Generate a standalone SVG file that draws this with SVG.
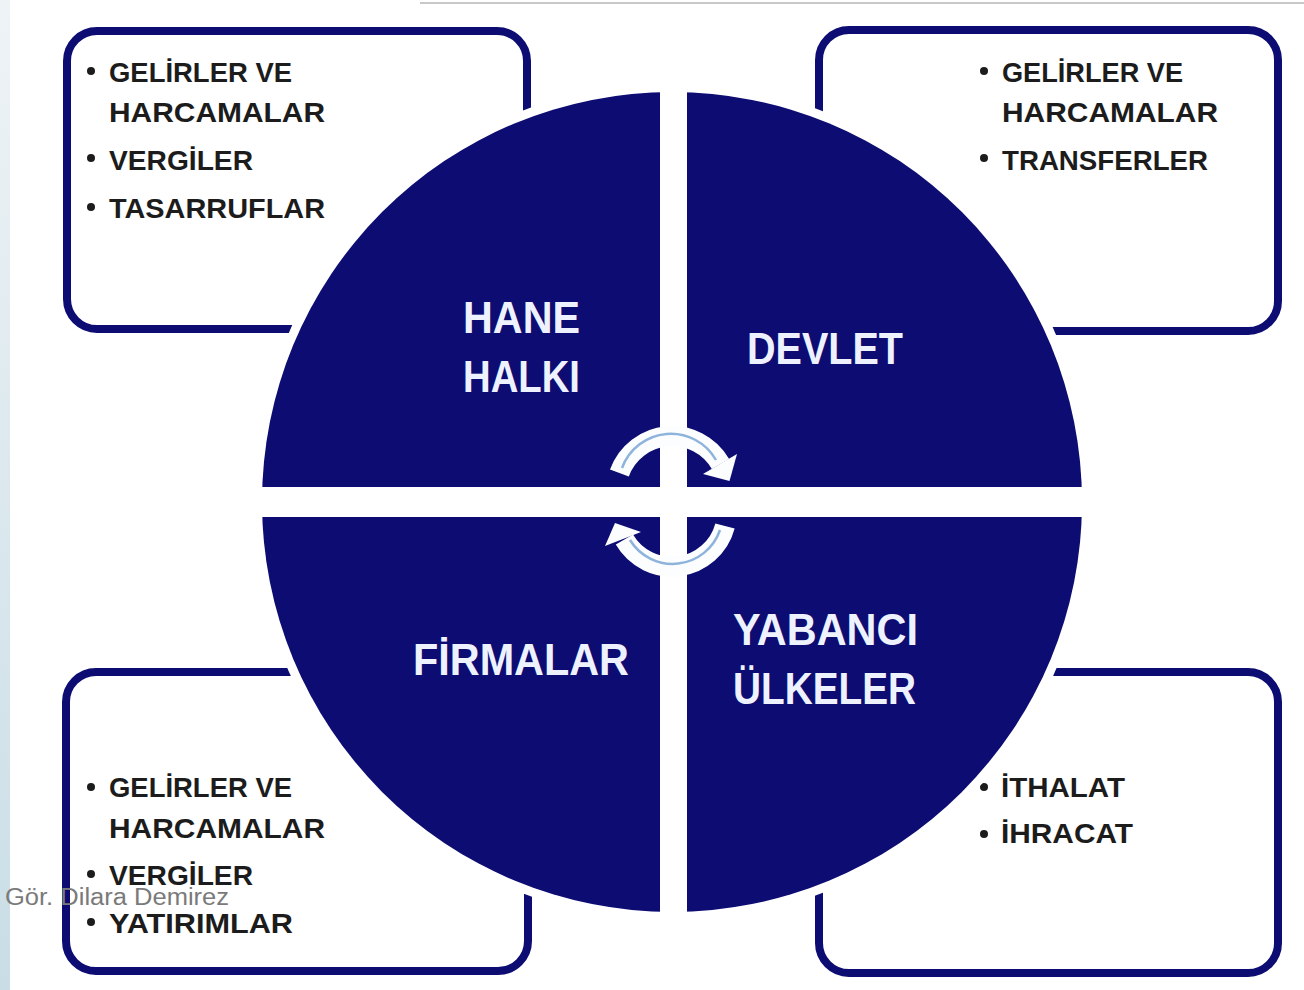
<svg xmlns="http://www.w3.org/2000/svg" width="1304" height="990" viewBox="0 0 1304 990">
<defs>
<style>
.box{fill:#ffffff;stroke:#0c0c72;stroke-width:8}
.quad{fill:#0c0c72}
.item{font-family:"Liberation Sans",Arial,sans-serif;font-weight:bold;font-size:28px;fill:#1c1c1c}
.lbl{font-family:"Liberation Sans",Arial,sans-serif;font-weight:bold;font-size:44px;fill:#eef2ff}
.dot{fill:#1c1c1c}
.arc{fill:none;stroke:#fbfdff;stroke-width:20}
.arcline{fill:none;stroke:#8fb4dc;stroke-width:2.5}
.head{fill:#fbfdff}
.wm{font-family:"Liberation Sans",Arial,sans-serif;font-size:23px;fill:#7a7a7a}
</style>
<clipPath id="circ"><circle cx="672" cy="502" r="410"/></clipPath>
<linearGradient id="strip" x1="0" y1="0" x2="0" y2="1">
<stop offset="0" stop-color="#eef3f6"/>
<stop offset="1" stop-color="#c9dde6"/>
</linearGradient>
</defs>
<rect x="0" y="0" width="1304" height="990" fill="#ffffff"/>
<rect x="0" y="0" width="10" height="990" fill="url(#strip)"/>
<line x1="420" y1="3" x2="1304" y2="3" stroke="#c8c8c8" stroke-width="2"/>

<g id="box-hane">
<rect class="box" x="67" y="31" width="460" height="298" rx="30"/>
<circle class="dot" cx="91" cy="71" r="4"/>
<text class="item" x="109" y="82" textLength="183" lengthAdjust="spacingAndGlyphs">GELİRLER VE</text>
<text class="item" x="109" y="122" textLength="216" lengthAdjust="spacingAndGlyphs">HARCAMALAR</text>
<circle class="dot" cx="91" cy="158" r="4"/>
<text class="item" x="109" y="170" textLength="144" lengthAdjust="spacingAndGlyphs">VERGİLER</text>
<circle class="dot" cx="91" cy="207" r="4"/>
<text class="item" x="109" y="218" textLength="216" lengthAdjust="spacingAndGlyphs">TASARRUFLAR</text>
</g>

<g id="box-devlet">
<rect class="box" x="819" y="30" width="459" height="301" rx="30"/>
<circle class="dot" cx="984" cy="71" r="4"/>
<text class="item" x="1002" y="82" textLength="181" lengthAdjust="spacingAndGlyphs">GELİRLER VE</text>
<text class="item" x="1002" y="122" textLength="216" lengthAdjust="spacingAndGlyphs">HARCAMALAR</text>
<circle class="dot" cx="984" cy="158" r="4"/>
<text class="item" x="1002" y="170" textLength="206" lengthAdjust="spacingAndGlyphs">TRANSFERLER</text>
</g>

<g id="box-firmalar">
<rect class="box" x="66" y="672" width="462" height="299" rx="30"/>
<circle class="dot" cx="91" cy="787" r="4"/>
<text class="item" x="109" y="797" textLength="183" lengthAdjust="spacingAndGlyphs">GELİRLER VE</text>
<text class="item" x="109" y="838" textLength="216" lengthAdjust="spacingAndGlyphs">HARCAMALAR</text>
<circle class="dot" cx="91" cy="874" r="4"/>
<text class="item" x="109" y="885" textLength="144" lengthAdjust="spacingAndGlyphs">VERGİLER</text>
<circle class="dot" cx="91" cy="922" r="4"/>
<text class="item" x="109" y="933" textLength="184" lengthAdjust="spacingAndGlyphs">YATIRIMLAR</text>
</g>

<g id="box-yabanci">
<rect class="box" x="819" y="672" width="459" height="301" rx="30"/>
<circle class="dot" cx="984" cy="787" r="4"/>
<text class="item" x="1001" y="797" textLength="124" lengthAdjust="spacingAndGlyphs">İTHALAT</text>
<circle class="dot" cx="984" cy="834" r="4"/>
<text class="item" x="1001" y="843" textLength="132" lengthAdjust="spacingAndGlyphs">İHRACAT</text>
</g>

<circle cx="672" cy="502" r="414" fill="none" stroke="#ffffff" stroke-width="10"/>

<g id="node-hane">
<rect class="quad" x="0" y="0" width="660" height="487" clip-path="url(#circ)"/>
<text class="lbl" x="463" y="333" textLength="117" lengthAdjust="spacingAndGlyphs">HANE</text>
<text class="lbl" x="463" y="392" textLength="117" lengthAdjust="spacingAndGlyphs">HALKI</text>
</g>
<g id="node-devlet">
<rect class="quad" x="687" y="0" width="617" height="487" clip-path="url(#circ)"/>
<text class="lbl" x="747" y="364" textLength="156" lengthAdjust="spacingAndGlyphs">DEVLET</text>
</g>
<g id="node-firmalar">
<rect class="quad" x="0" y="517" width="660" height="473" clip-path="url(#circ)"/>
<text class="lbl" x="413" y="675" textLength="216" lengthAdjust="spacingAndGlyphs">FİRMALAR</text>
</g>
<g id="node-yabanci">
<rect class="quad" x="687" y="517" width="617" height="473" clip-path="url(#circ)"/>
<text class="lbl" x="733" y="645" textLength="185" lengthAdjust="spacingAndGlyphs">YABANCI</text>
<text class="lbl" x="733" y="704" textLength="183" lengthAdjust="spacingAndGlyphs">ÜLKELER</text>
</g>

<g id="connectors">
<path class="arc" d="M 619.4 473 A 56 56 0 0 1 720.5 464"/>
<path class="arcline" d="M 622 468 A 52 52 0 0 1 716 460"/>
<polygon class="head" points="737,454 729.5,481 703,474"/>
<path class="arc" d="M 725 526 A 55 55 0 0 1 624.4 539.5"/>
<path class="arcline" d="M 720 530 A 50 50 0 0 1 630 540"/>
<polygon class="head" points="605,546 615,523 641,532"/>
</g>

<text class="wm" x="5" y="905" textLength="224" lengthAdjust="spacingAndGlyphs">Gör. Dilara Demirez</text>
</svg>
